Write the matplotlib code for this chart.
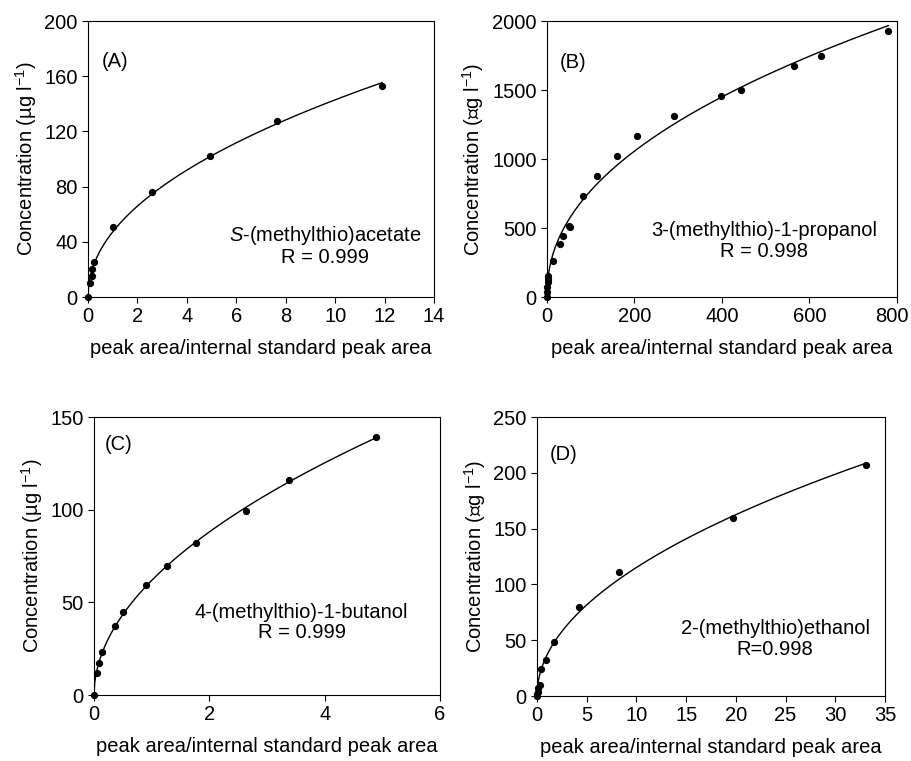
import numpy as np
import matplotlib
matplotlib.use("Agg")
import matplotlib.pyplot as plt
import matplotlib.transforms as mtrans

plt.rcParams['font.family'] = ['Liberation Sans', 'DejaVu Sans']
plt.rcParams['mathtext.fontset'] = 'custom'
plt.rcParams['mathtext.rm'] = 'Liberation Sans'
plt.rcParams['mathtext.it'] = 'Liberation Sans:italic'
plt.rcParams['axes.unicode_minus'] = False

# (A) S-(methylthio)acetate
xa = [0, 0.08, 0.18, 0.18, 0.26, 1.03, 2.6, 4.94, 7.64, 11.9]
ya = [0, 10.4, 15.5, 20.5, 25.4, 51, 76.3, 102, 127.3, 153]
# (B) 3-(methylthio)-1-propanol
xb = [0, 0.5, 1, 1.5, 2, 2.5, 14.4, 29.7, 37.3, 49.5, 52, 83, 113.5, 160.8,
      205.7, 290, 397, 443, 565, 627, 780]
yb = [0, 36, 75, 110, 130, 150, 261, 386, 440, 515, 510, 730, 877, 1025,
      1167, 1315, 1460, 1503, 1675, 1750, 1924]
# (C) 4-(methylthio)-1-butanol
xc = [0, 0.046, 0.09, 0.13, 0.36, 0.51, 0.91, 1.27, 1.77, 2.63, 3.38, 4.89]
yc = [0, 11.7, 17.3, 23.2, 37.4, 44.8, 59.4, 69.6, 81.9, 99.1, 116, 139.4]
# (D) 2-(methylthio)ethanol
xd = [0, 0.02, 0.05, 0.08, 0.27, 0.4, 0.9, 1.7, 4.2, 8.2, 19.7, 33.1]
yd = [0, 2, 4, 7, 10, 24.5, 32.3, 48, 79.6, 111.4, 159.3, 206.6]

panels = [
    dict(x=xa, y=ya, tag='(A)', name='$S$-(methylthio)acetate', r='R = 0.999',
         ylab='Concentration (µg l$^{-1}$)', xlim=(0, 14), xt=np.arange(0, 15, 2),
         ylim=(0, 200), yt=np.arange(0, 201, 40),
         pos=[0.0966, 0.6097, 0.3798, 0.3627], tagpos=(0.04, 0.855), txtpos=(0.685, 0.187)),
    dict(x=xb, y=yb, tag='(B)', name='3-(methylthio)-1-propanol', r='R = 0.998',
         ylab='Concentration (∝g l$^{-1}$)', xlim=(0, 800), xt=np.arange(0, 801, 200),
         ylim=(0, 2000), yt=np.arange(0, 2001, 500),
         pos=[0.6004, 0.6097, 0.3842, 0.3627], tagpos=(0.037, 0.85), txtpos=(0.62, 0.203)),
    dict(x=xc, y=yc, tag='(C)', name='4-(methylthio)-1-butanol', r='R = 0.999',
         ylab='Concentration (µg l$^{-1}$)', xlim=(0, 6), xt=np.arange(0, 7, 2),
         ylim=(0, 150), yt=np.arange(0, 151, 50),
         pos=[0.1032, 0.0867, 0.3798, 0.3653], tagpos=(0.03, 0.9), txtpos=(0.6, 0.26)),
    dict(x=xd, y=yd, tag='(D)', name='2-(methylthio)ethanol', r='R=0.998',
         ylab='Concentration (∝g l$^{-1}$)', xlim=(0, 35), xt=np.arange(0, 36, 5),
         ylim=(0, 250), yt=np.arange(0, 251, 50),
         pos=[0.5895, 0.0854, 0.382, 0.3666], tagpos=(0.037, 0.864), txtpos=(0.684, 0.204)),
]

FS = 14.5


def power_fit(x, y):
    # least squares y = a*x^b, grid over b
    x = np.asarray(x, float)
    y = np.asarray(y, float)
    best = None
    for b in np.linspace(0.2, 1.0, 1601):
        xp = x ** b
        a = (y * xp).sum() / (xp * xp).sum()
        sse = ((y - a * xp) ** 2).sum()
        if best is None or sse < best[0]:
            best = (sse, a, b)
    return best[1], best[2]


fig = plt.figure(figsize=(9.11, 7.61), dpi=100)
axes = []
for p in panels:
    ax = fig.add_axes(p['pos'])
    axes.append(ax)
    a, b = power_fit(p['x'], p['y'])
    xs = np.linspace(0, max(p['x']), 400)
    ax.plot(xs, a * xs ** b, color='black', lw=1.0)
    ax.plot(p['x'], p['y'], 'o', color='black', ms=4.2, clip_on=False, zorder=3)
    ax.set_xlim(*p['xlim'])
    ax.set_ylim(*p['ylim'])
    ax.set_xticks(p['xt'])
    ax.set_yticks(p['yt'])
    ax.tick_params(direction='out', length=4, width=0.8, labelsize=FS, top=False, right=False)
    for s in ax.spines.values():
        s.set_linewidth(0.8)
    ax.set_xlabel('peak area/internal standard peak area', fontsize=FS, labelpad=9)
    ax.set_ylabel(p['ylab'], fontsize=FS, labelpad=4)
    ax.text(p['tagpos'][0], p['tagpos'][1], p['tag'], transform=ax.transAxes,
            fontsize=FS, ha='left', va='center')
    ax.text(p['txtpos'][0], p['txtpos'][1], p['name'] + '\n' + p['r'], transform=ax.transAxes,
            fontsize=FS, ha='center', va='center', multialignment='center', linespacing=1.1)

# keep the "800" label of panel B inside the figure
lab = axes[1].get_xticklabels()[-1]
lab.set_transform(lab.get_transform() + mtrans.ScaledTranslation(-4 / 72, 0, fig.dpi_scale_trans))

fig.savefig('out.png', dpi=100)
